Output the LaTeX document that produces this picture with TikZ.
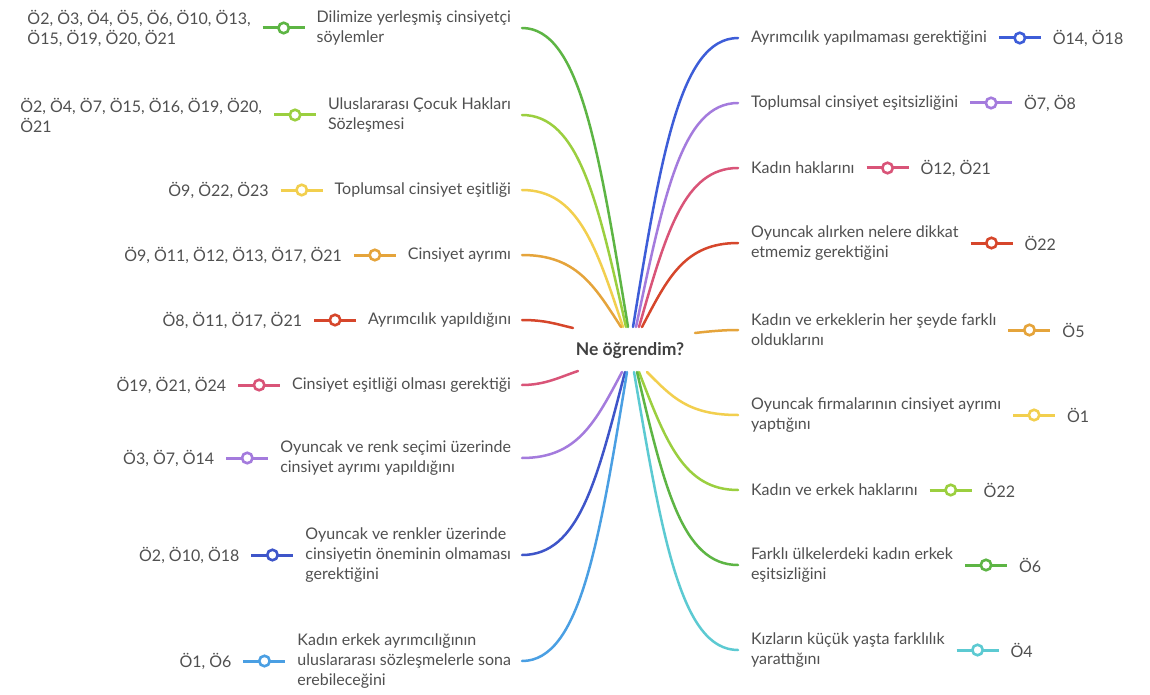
\documentclass[tikz,border=0pt]{standalone}
\usepackage{fontspec}
\setmainfont{Lato}
\definecolor{txt}{HTML}{505050}
\definecolor{cgreen}{HTML}{5DB544}
\definecolor{clgreen}{HTML}{9BCF3F}
\definecolor{cyellow}{HTML}{F2CF4E}
\definecolor{corange}{HTML}{E5A43B}
\definecolor{cred}{HTML}{D6462B}
\definecolor{cpink}{HTML}{D95478}
\definecolor{cpurple}{HTML}{A47BDD}
\definecolor{cdblue}{HTML}{3E55C9}
\definecolor{cblue}{HTML}{3D5DD8}
\definecolor{clblue}{HTML}{4A9FE3}
\definecolor{cteal}{HTML}{5CCAD2}
\tikzset{
  lab/.style={font=\fontsize{16}{20}\selectfont, text=txt, align=left, inner sep=0pt, outer sep=0pt},
  tick/.style={line width=3pt, shorten <=12pt, shorten >=12pt},
  dot/.style={circle, draw, line width=2.6pt, fill=white, minimum size=10.5pt, inner sep=0pt},
  conn/.style={line width=2.5pt, line cap=round},
}
\begin{document}
\begin{tikzpicture}[x=1pt,y=-1pt]
\useasboundingbox (0,0) rectangle (1150,695);
\fill[white] (0,0) rectangle (1150,695);

% centre
\node[font=\fontsize{17.5}{20}\selectfont\bfseries, text=black!75, inner sep=0pt] (ne) at (630,351) {Ne öğrendim?};
\coordinate (eL1) at (628,327);
\coordinate (eL2) at (626,327);
\coordinate (eL3) at (623,327);
\coordinate (eL4) at (621,327);
\coordinate (eL5) at (573,328);
\coordinate (eL6) at (578,371);
\coordinate (eL7) at (622,372);
\coordinate (eL8) at (625,372);
\coordinate (eL9) at (627,372);
\coordinate (eR1) at (633,327);
\coordinate (eR2) at (636,327);
\coordinate (eR3) at (639,327);
\coordinate (eR4) at (642,327);
\coordinate (eR5) at (695,333);
\coordinate (eR6) at (647,372);
\coordinate (eR7) at (639,372);
\coordinate (eR8) at (637,372);
\coordinate (eR9) at (634,372);

% ---------- left side ----------
\node[lab, anchor=east] (L1) at (511,28) {Dilimize yerleşmiş cinsiyetçi\\söylemler};
\node[lab, anchor=east] (rL1) at ([xshift=-66pt]L1.west) {Ö2, Ö3, Ö4, Ö5, Ö6, Ö10, Ö13,\\Ö15, Ö19, Ö20, Ö21};
\draw[tick, cgreen] (rL1.east) -- node[dot, draw=cgreen] (cL1) {} (L1.west);
\draw[conn, cgreen] ([xshift=11pt]L1.east) .. controls (580,28) and (599,151) .. (eL1);

\node[lab, anchor=east] (L2) at (511,115) {Uluslararası Çocuk Hakları\\Sözleşmesi};
\node[lab, anchor=east] (rL2) at ([xshift=-66pt]L2.west) {Ö2, Ö4, Ö7, Ö15, Ö16, Ö19, Ö20,\\Ö21};
\draw[tick, clgreen] (rL2.east) -- node[dot, draw=clgreen] (cL2) {} (L2.west);
\draw[conn, clgreen] ([xshift=11pt]L2.east) .. controls (579,115) and (598,202) .. (eL2);

\node[lab, anchor=east] (L3) at (511,190) {Toplumsal cinsiyet eşitliği};
\node[lab, anchor=east] (rL3) at ([xshift=-66pt]L3.west) {Ö9, Ö22, Ö23};
\draw[tick, cyellow] (rL3.east) -- node[dot, draw=cyellow] (cL3) {} (L3.west);
\draw[conn, cyellow] ([xshift=11pt]L3.east) .. controls (578,190) and (596,246) .. (eL3);

\node[lab, anchor=east] (L4) at (511,255) {Cinsiyet ayrımı};
\node[lab, anchor=east] (rL4) at ([xshift=-66pt]L4.west) {Ö9, Ö11, Ö12, Ö13, Ö17, Ö21};
\draw[tick, corange] (rL4.east) -- node[dot, draw=corange] (cL4) {} (L4.west);
\draw[conn, corange] ([xshift=11pt]L4.east) .. controls (576,255) and (594,285) .. (eL4);

\node[lab, anchor=east] (L5) at (511,320) {Ayrımcılık yapıldığını};
\node[lab, anchor=east] (rL5) at ([xshift=-66pt]L5.west) {Ö8, Ö11, Ö17, Ö21};
\draw[tick, cred] (rL5.east) -- node[dot, draw=cred] (cL5) {} (L5.west);
\draw[conn, cred] ([xshift=11pt]L5.east) .. controls (545,320) and (556,324) .. (eL5);

\node[lab, anchor=east] (L6) at (511,385) {Cinsiyet eşitliği olması gerektiği};
\node[lab, anchor=east] (rL6) at ([xshift=-66pt]L6.west) {Ö19, Ö21, Ö24};
\draw[tick, cpink] (rL6.east) -- node[dot, draw=cpink] (cL6) {} (L6.west);
\draw[conn, cpink] ([xshift=11pt]L6.east) .. controls (545,385) and (560,377) .. (eL6);

\node[lab, anchor=east] (L7) at (511,458) {Oyuncak ve renk seçimi üzerinde\\cinsiyet ayrımı yapıldığını};
\node[lab, anchor=east] (rL7) at ([xshift=-66pt]L7.west) {Ö3, Ö7, Ö14};
\draw[tick, cpurple] (rL7.east) -- node[dot, draw=cpurple] (cL7) {} (L7.west);
\draw[conn, cpurple] ([xshift=11pt]L7.east) .. controls (577,458) and (595,423) .. (eL7);

\node[lab, anchor=east] (L8) at (511,555) {Oyuncak ve renkler üzerinde\\cinsiyetin öneminin olmaması\\gerektiğini};
\node[lab, anchor=east] (rL8) at ([xshift=-66pt]L8.west) {Ö2, Ö10, Ö18};
\draw[tick, cdblue] (rL8.east) -- node[dot, draw=cdblue] (cL8) {} (L8.west);
\draw[conn, cdblue] ([xshift=11pt]L8.east) .. controls (579,555) and (597,480) .. (eL8);

\node[lab, anchor=east] (L9) at (511,661) {Kadın erkek ayrımcılığının\\uluslararası sözleşmelerle sona\\erebileceğini};
\node[lab, anchor=east] (rL9) at ([xshift=-66pt]L9.west) {Ö1, Ö6};
\draw[tick, clblue] (rL9.east) -- node[dot, draw=clblue] (cL9) {} (L9.west);
\draw[conn, clblue] ([xshift=11pt]L9.east) .. controls (580,661) and (599,543) .. (eL9);

% ---------- right side ----------
\node[lab, anchor=west] (R1) at (751,38) {Ayrımcılık yapılmaması gerektiğini};
\node[lab, anchor=west] (rR1) at ([xshift=66pt]R1.east) {Ö14, Ö18};
\draw[tick, cblue] (R1.east) -- node[dot, draw=cblue] (cR1) {} (rR1.west);
\draw[conn, cblue] (eR1) .. controls (661,156) and (680,38) .. ([xshift=-13pt]R1.west);

\node[lab, anchor=west] (R2) at (751,103) {Toplumsal cinsiyet eşitsizliğini};
\node[lab, anchor=west] (rR2) at ([xshift=66pt]R2.east) {Ö7, Ö8};
\draw[tick, cpurple] (R2.east) -- node[dot, draw=cpurple] (cR2) {} (rR2.west);
\draw[conn, cpurple] (eR2) .. controls (664,195) and (682,103) .. ([xshift=-13pt]R2.west);

\node[lab, anchor=west] (R3) at (751,168) {Kadın haklarını};
\node[lab, anchor=west] (rR3) at ([xshift=66pt]R3.east) {Ö12, Ö21};
\draw[tick, cpink] (R3.east) -- node[dot, draw=cpink] (cR3) {} (rR3.west);
\draw[conn, cpink] (eR3) .. controls (666,233) and (684,168) .. ([xshift=-13pt]R3.west);

\node[lab, anchor=west] (R4) at (751,243) {Oyuncak alırken nelere dikkat\\etmemiz gerektiğini};
\node[lab, anchor=west] (rR4) at ([xshift=66pt]R4.east) {Ö22};
\draw[tick, cred] (R4.east) -- node[dot, draw=cred] (cR4) {} (rR4.west);
\draw[conn, cred] (eR4) .. controls (668,277) and (685,243) .. ([xshift=-13pt]R4.west);

\node[lab, anchor=west] (R5) at (751,330) {Kadın ve erkeklerin her şeyde farklı\\olduklarını};
\node[lab, anchor=west] (rR5) at ([xshift=66pt]R5.east) {Ö5};
\draw[tick, corange] (R5.east) -- node[dot, draw=corange] (cR5) {} (rR5.west);
\draw[conn, corange] (eR5) .. controls (712,331) and (725,330) .. ([xshift=-13pt]R5.west);

\node[lab, anchor=west] (R6) at (751,415) {Oyuncak firmalarının cinsiyet ayrımı\\yaptığını};
\node[lab, anchor=west] (rR6) at ([xshift=66pt]R6.east) {Ö1};
\draw[tick, cyellow] (R6.east) -- node[dot, draw=cyellow] (cR6) {} (rR6.west);
\draw[conn, cyellow] (eR6) .. controls (672,397) and (688,415) .. ([xshift=-13pt]R6.west);

\node[lab, anchor=west] (R7) at (751,490) {Kadın ve erkek haklarını};
\node[lab, anchor=west] (rR7) at ([xshift=66pt]R7.east) {Ö22};
\draw[tick, clgreen] (R7.east) -- node[dot, draw=clgreen] (cR7) {} (rR7.west);
\draw[conn, clgreen] (eR7) .. controls (666,442) and (684,490) .. ([xshift=-13pt]R7.west);

\node[lab, anchor=west] (R8) at (751,565) {Farklı ülkelerdeki kadın erkek\\eşitsizliğini};
\node[lab, anchor=west] (rR8) at ([xshift=66pt]R8.east) {Ö6};
\draw[tick, cgreen] (R8.east) -- node[dot, draw=cgreen] (cR8) {} (rR8.west);
\draw[conn, cgreen] (eR8) .. controls (664,486) and (682,565) .. ([xshift=-13pt]R8.west);

\node[lab, anchor=west] (R9) at (751,650) {Kızların küçük yaşta farklılık\\yarattığını};
\node[lab, anchor=west] (rR9) at ([xshift=66pt]R9.east) {Ö4};
\draw[tick, cteal] (R9.east) -- node[dot, draw=cteal] (cR9) {} (rR9.west);
\draw[conn, cteal] (eR9) .. controls (662,536) and (681,650) .. ([xshift=-13pt]R9.west);
\end{tikzpicture}
\end{document}
